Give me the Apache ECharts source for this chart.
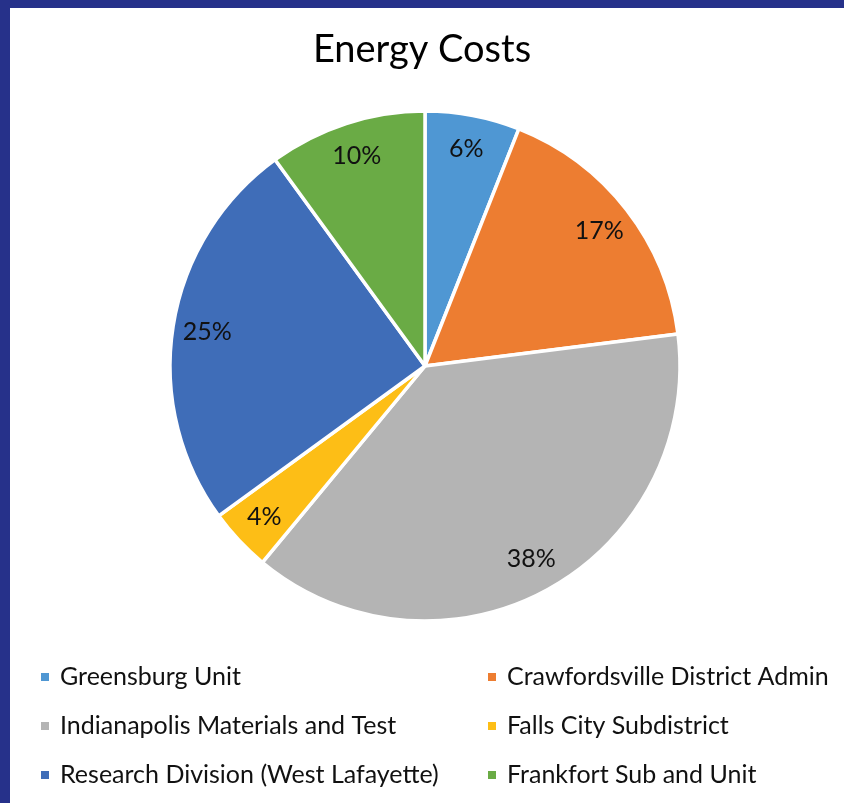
<!DOCTYPE html>
<html>
<head>
<meta charset="utf-8">
<title>Energy Costs</title>
<script src="https://cdn.jsdelivr.net/npm/echarts@6/dist/echarts.min.js"></script>
<style>
  html, body { margin: 0; padding: 0; background: #ffffff; }
  #chart { width: 844px; height: 803px; }
</style>
</head>
<body>
<div id="chart"></div>
<script>
// Energy cost share by unit (percent)
const units = [
  'Greensburg Unit',
  'Crawfordsville District Admin',
  'Indianapolis Materials and Test',
  'Falls City Subdistrict',
  'Research Division (West Lafayette)',
  'Frankfort Sub and Unit'
];
const shares = [6, 17, 38, 4, 25, 10];
const colors = ['#4F97D3', '#ED7D31', '#B4B4B4', '#FDBE16', '#3F6DB8', '#6AAB45'];

// legend columns: left = items 0,2,4 ; right = items 1,3,5
const leftColumn = [units[0], units[2], units[4]];
const rightColumn = [units[1], units[3], units[5]];

const FONT = 'Lato';
const pieData = units.map((name, i) => ({ name, value: shares[i], itemStyle: { color: colors[i] } }));

const chart = echarts.init(document.getElementById('chart'), null, { renderer: 'canvas' });

const legendBase = {
  orient: 'vertical',
  top: 664,
  padding: 0,
  itemWidth: 10,
  itemHeight: 10,
  itemGap: 23,
  icon: 'rect',
  textStyle: { fontFamily: FONT, fontSize: 25, lineHeight: 26, color: '#111111', padding: [0, 0, 0, 5] },
  selectedMode: false
};

chart.setOption({
  backgroundColor: '#ffffff',
  animation: false,
  color: colors,
  title: {
    text: 'Energy Costs',
    left: 'center',
    top: 26,
    textStyle: { fontFamily: FONT, fontSize: 38, fontWeight: 'normal', color: '#000000' }
  },
  graphic: [
    { type: 'rect', shape: { x: 0, y: 0, width: 844, height: 8 }, style: { fill: '#26318A' }, z: 100 },
    { type: 'rect', shape: { x: 0, y: 0, width: 10, height: 803 }, style: { fill: '#26318A' }, z: 100 }
  ],
  legend: [
    Object.assign({}, legendBase, { left: 39, data: leftColumn }),
    Object.assign({}, legendBase, { left: 486, data: rightColumn })
  ],
  series: [
    {
      type: 'pie',
      center: [425, 366],
      radius: [0, 255],
      startAngle: 90,
      clockwise: true,
      avoidLabelOverlap: false,
      silent: true,
      label: { show: false },
      labelLine: { show: false },
      itemStyle: { borderColor: '#ffffff', borderWidth: 3.5 },
      data: pieData
    },
    {
      // transparent ring that carries the percentage labels near the outer edge
      type: 'pie',
      center: [425, 366],
      radius: [180, 255],
      startAngle: 90,
      clockwise: true,
      avoidLabelOverlap: false,
      silent: true,
      z: 3,
      itemStyle: { color: 'rgba(0,0,0,0)', borderWidth: 0 },
      label: {
        show: true,
        position: 'inside',
        formatter: p => p.value + '%',
        fontFamily: FONT,
        fontSize: 25,
        color: '#111111'
      },
      labelLine: { show: false },
      data: units.map((name, i) => ({ name, value: shares[i] }))
    }
  ]
});
</script>
</body>
</html>
